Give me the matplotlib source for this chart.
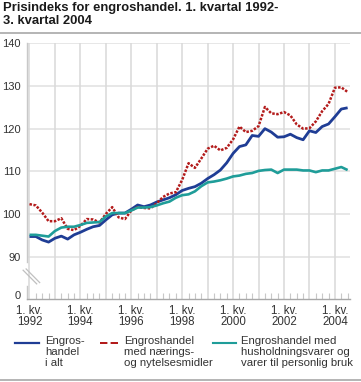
import matplotlib
matplotlib.use("Agg")
import matplotlib.pyplot as plt
from matplotlib.lines import Line2D

plt.rcParams["font.family"] = ["Liberation Sans", "DejaVu Sans"]

# quarterly index, 1. kv. 1992 - 3. kv. 2004
start_year = 1992
total = [94.7, 94.7, 93.9, 93.4, 94.3, 94.8, 94.1, 95.1,
         95.7, 96.4, 97.0, 97.3, 98.6, 99.8, 100.2, 100.2,
         101.1, 102.1, 101.7, 102.1, 102.8, 103.3, 103.8, 104.5,
         105.5, 106.0, 106.4, 107.2, 108.3, 109.2, 110.3, 112.0,
         114.2, 115.8, 116.2, 118.4, 118.2, 120.0, 119.2, 118.0,
         118.1, 118.7, 117.9, 117.4, 119.5, 119.1, 120.5, 121.1,
         122.8, 124.6, 124.9]
food = [102.3, 102.0, 100.3, 98.3, 98.3, 99.0, 96.5, 96.2,
        97.2, 98.8, 98.7, 98.0, 100.0, 101.6, 99.2, 98.8,
        100.8, 101.6, 101.4, 101.3, 102.5, 104.0, 104.8, 105.1,
        108.0, 111.9, 110.8, 113.0, 115.3, 116.0, 114.9, 115.5,
        117.5, 120.5, 119.2, 119.5, 120.6, 125.1, 123.6, 123.4,
        123.9, 123.1, 121.0, 120.0, 120.1, 121.7, 124.1, 125.8,
        129.6, 129.7, 128.6]
household = [95.1, 95.1, 94.9, 94.7, 96.0, 96.8, 97.0, 97.0,
             97.4, 97.9, 98.0, 98.1, 99.4, 100.2, 100.2, 100.2,
             100.8, 101.5, 101.5, 101.6, 102.0, 102.5, 102.9, 103.8,
             104.4, 104.6, 105.3, 106.5, 107.4, 107.6, 107.9, 108.3,
             108.8, 109.0, 109.4, 109.6, 110.1, 110.3, 110.4, 109.6,
             110.4, 110.4, 110.4, 110.2, 110.2, 109.8, 110.2, 110.2,
             110.6, 111.0, 110.3]

labels = ["Engros-\nhandel\ni alt",
          "Engroshandel\nmed nærings-\nog nytelsesmidler",
          "Engroshandel med\nhusholdningsvarer og\nvarer til personlig bruk"]
colors = ["#1f3d95", "#b31b1b", "#1f9d99"]
styles = ["-", (0, (1.0, 0.6)), "-"]

ytick_vals = [90, 100, 110, 120, 130, 140]
year_ticks = list(range(1992, 2005))
W, H = 361, 382


def fx(px):
    return px / W


def fy(py):
    return 1 - py / H


fig = plt.figure(figsize=(W / 100, H / 100), dpi=100)
ax = fig.add_axes([fx(27), fy(299), fx(350) - fx(27), fy(43.4) - fy(299)])

x = [start_year + i / 4 for i in range(len(total))]
series = [total, food, household]
widths = [2.0, 1.8, 1.9]
lines = []
for vals, c, ls, lw in zip(series, colors, styles, widths):
    ln, = ax.plot(x, vals, color=c, lw=lw, linestyle=ls,
                  solid_capstyle="butt", zorder=3)
    lines.append(ln)

ax.set_xlim(1991.902, 2004.593)
ax.set_ylim(80.05, 140)

# y axis with broken scale: "0" sits just above the bottom
ax.set_yticks([81.0] + ytick_vals)
ax.set_yticklabels(["0"] + [str(v) for v in ytick_vals])
for v in ytick_vals:
    ax.axhline(v, color="#e0e0e0", lw=1.1, zorder=1)

ax.set_xticks(year_ticks)
ax.set_xticklabels(["1. kv.\n%d" % y if (y - 1992) % 2 == 0 else ""
                    for y in year_ticks])
ax.set_xticks([start_year + i / 4 for i in range(51)], minor=True)
for y in year_ticks:
    ax.axvline(y, color="#d9d9d9", lw=1.1, zorder=1)

ax.tick_params(axis="both", which="major", length=0, labelsize=8,
               labelcolor="#333333")
ax.tick_params(axis="y", pad=4.5)
ax.tick_params(axis="x", pad=4)
ax.tick_params(axis="x", which="minor", direction="in", length=4,
               color="#c8c8c8", width=0.8)
ax.tick_params(axis="y", which="minor", length=0)
for lbl in ax.get_xticklabels():
    lbl.set_linespacing(0.9)
    lbl.set_fontsize(8.3)

for s in ["top", "right", "left"]:
    ax.spines[s].set_visible(False)
ax.spines["bottom"].set_color("#a8a8a8")
ax.spines["bottom"].set_linewidth(1.0)

# left spine drawn in two parts with a break
ytr = ax.get_yaxis_transform()
ax.plot([0, 0], [88.8, 140], transform=ytr, color="#c8c8c8", lw=1.0,
        clip_on=False, zorder=2)
ax.plot([0, 0], [80.05, 83.1], transform=ytr, color="#c8c8c8", lw=1.0,
        clip_on=False, zorder=2)
for off in [0, 3]:
    ax.plot([-0.012 + off / 323, 0.030 + off / 323],
            [86.8 + off * 0.1, 83.6 + off * 0.1], transform=ytr,
            color="#c0c0c0", lw=0.9, clip_on=False)

# title and rules
fig.text(fx(3), fy(1.5), "Prisindeks for engroshandel. 1. kvartal 1992-\n"
         "3. kvartal 2004", fontsize=9.4, fontweight="bold", color="#1a1a1a",
         va="top", ha="left", linespacing=1.12)
fig.add_artist(Line2D([0, 1], [fy(32.5), fy(32.5)], color="#a0a0a0", lw=1.1))
fig.add_artist(Line2D([0, 1], [fy(380), fy(380)], color="#a0a0a0", lw=1.1))

# legend
key_x = [(15, 39), (100, 121), (213, 236)]
text_x = [45, 124, 241]
for ln, lab, (x0, x1), tx in zip(lines, labels, key_x, text_x):
    fig.add_artist(Line2D([fx(x0), fx(x1)], [fy(343), fy(343)],
                          color=ln.get_color(), lw=ln.get_linewidth() * 0.8,
                          linestyle=ln.get_linestyle()))
    fig.text(fx(tx), fy(336.5), lab, fontsize=8.2, color="#333333",
             va="top", ha="left", linespacing=1.1)

fig.savefig("out.png", dpi=100)
